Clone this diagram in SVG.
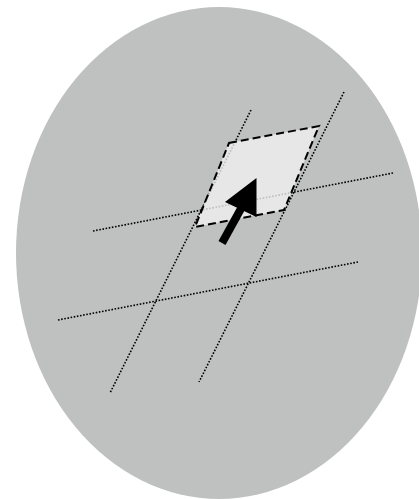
<svg xmlns="http://www.w3.org/2000/svg" width="419" height="499" viewBox="0 0 419 499">
<style>
.dot{stroke:#000;stroke-width:1.6;stroke-dasharray:1.6 1.6;fill:none}
.sel{fill:#f2f2f2;fill-opacity:0.78;stroke:#000;stroke-width:2;stroke-dasharray:8 4}
</style>
<rect width="419" height="499" fill="#ffffff"/>
<g id="disc"><ellipse cx="219" cy="253" rx="203" ry="246" fill="#bfc1c0"/></g>
<g id="grid">
<line class="dot" x1="251" y1="110" x2="110" y2="393"/>
<line class="dot" x1="344" y1="92" x2="199" y2="382"/>
<line class="dot" x1="93" y1="231" x2="393" y2="173"/>
<line class="dot" x1="58" y1="320" x2="358" y2="262"/>
</g>
<g id="region"><polygon class="sel" points="229,143 319,126 284,210 195,227"/></g>
<g id="arrow">
<line x1="222" y1="243" x2="243" y2="205" stroke="#000" stroke-width="8"/>
<polygon points="256.5,178 225,202 256.5,217" fill="#000"/>
</g>
</svg>
